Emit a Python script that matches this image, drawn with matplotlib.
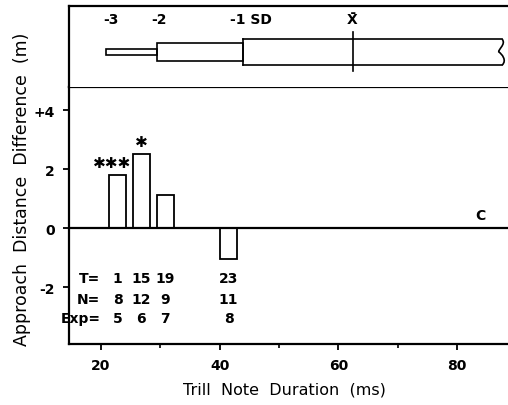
import matplotlib
matplotlib.use('Agg')
import matplotlib.pyplot as plt
from matplotlib.patches import Rectangle, PathPatch
from matplotlib.path import Path

# ---- data ----
bar_x = [22.8, 26.8, 30.8, 41.5]          # trill note duration (ms)
bar_diff = [1.8, 2.52, 1.12, -1.05]       # approach distance difference (m)
sig_counts = [3, 1, 0, 0]
T_vals = [1, 15, 19, 23]
N_vals = [8, 12, 9, 11]
Exp_vals = [5, 6, 7, 8]
sd_bounds = [20.8, 29.5, 43.9, 62.5]      # -3, -2, -1 SD, mean
sd_labels = ['-3', '-2', '-1 SD', 'X\u0304']
sd_label_x = [21.6, 29.8, 45.2, 62.4]
xticks = [20, 40, 60, 80]
xminor = [30, 50, 70]
yticks = [-2, 0, 2, 4]
ytick_labels = ['-2', '0', '2', '+4']

plt.rcParams['font.family'] = ['DejaVu Sans']
W, H = 508, 406
fig = plt.figure(figsize=(W / 100, H / 100), dpi=100)

ax = fig.add_axes([69 / W, 61 / H, 439 / W, 257 / H])
axt = fig.add_axes([69 / W, 318 / H, 439 / W, 81 / H])

xlim = (14.6, 88.6)
ax.set_xlim(*xlim)
ax.set_ylim(-3.93, 4.78)
axt.set_xlim(*xlim)
axt.set_ylim(0, 1)

lw_sp = 1.6
for a in (ax, axt):
    a.spines['right'].set_visible(False)
    for s in ('left', 'bottom', 'top'):
        a.spines[s].set_linewidth(lw_sp)
axt.spines['bottom'].set_visible(False)
axt.set_xticks([])
axt.set_yticks([])

# bars
ax.bar(bar_x, bar_diff, width=2.9, facecolor='white', edgecolor='black', linewidth=1.3, zorder=3)
ax.axhline(0, color='black', lw=1.6, zorder=4)

# significance stars
for x, d, n in zip(bar_x, bar_diff, sig_counts):
    if n:
        ax.annotate('\u2731' * n, (x, d), xytext=(-4 if n > 1 else 0, 9),
                    textcoords='offset points', ha='center', va='center',
                    fontsize=11, fontweight='bold')

# table text
fs = 10
rows = [('T=', T_vals, -1.69), ('N=', N_vals, -2.41), ('Exp=', Exp_vals, -3.05)]
for lab, vals, y in rows:
    ax.text(19.9, y, lab, ha='right', va='center', fontsize=fs, fontweight='bold')
    for x, v in zip(bar_x, vals):
        ax.text(x, y, str(v), ha='center', va='center', fontsize=fs, fontweight='bold')

ax.text(84.0, 0.22, 'C', ha='center', va='bottom', fontsize=fs, fontweight='bold')

# ticks
ax.set_xticks(xticks)
ax.set_xticklabels([str(t) for t in xticks], fontsize=10, fontweight='bold')
ax.set_xticks(xminor, minor=True)
ax.set_yticks(yticks)
ax.set_yticklabels(ytick_labels, fontsize=10, fontweight='bold')
ax.tick_params(axis='both', which='major', direction='out', length=4, width=1.3, pad=6)
ax.tick_params(axis='both', which='minor', direction='out', length=3, width=1.2)

# top SD box
c = 0.43
h1, h2, h3 = 0.035, 0.11, 0.16
lwb = 1.2
axt.add_patch(Rectangle((sd_bounds[0], c - h1), sd_bounds[1] - sd_bounds[0], 2 * h1,
                        fill=False, ec='black', lw=lwb))
axt.add_patch(Rectangle((sd_bounds[1], c - h2), sd_bounds[2] - sd_bounds[1], 2 * h2,
                        fill=False, ec='black', lw=lwb))
xr = 87.6
axt.plot([sd_bounds[2], sd_bounds[2]], [c - h3, c + h3], color='black', lw=lwb)
axt.plot([sd_bounds[2], xr], [c + h3, c + h3], color='black', lw=lwb)
axt.plot([sd_bounds[2], xr], [c - h3, c - h3], color='black', lw=lwb)
verts = [(xr, c + h3), (xr + 0.8, c + h3 - 0.06), (xr - 0.9, c + 0.02), (xr - 0.5, c),
         (xr - 0.1, c - 0.02), (xr + 0.9, c - h3 + 0.06), (xr, c - h3)]
codes = [Path.MOVETO, Path.CURVE4, Path.CURVE4, Path.CURVE4, Path.CURVE4, Path.CURVE4, Path.CURVE4]
axt.add_patch(PathPatch(Path(verts, codes), fill=False, ec='black', lw=lwb))
axt.plot([sd_bounds[3], sd_bounds[3]], [0.2, 0.68], color='black', lw=lwb)
for x, lab in zip(sd_label_x, sd_labels):
    axt.text(x, 0.84, lab, ha='center', va='center', fontsize=fs, fontweight='bold')

fig.text(22 / W, 1 - 189 / H, 'Approach  Distance  Difference  (m)', rotation=90,
         ha='center', va='center', fontsize=12.5)
fig.text(284 / W, 1 - 390 / H, 'Trill  Note  Duration  (ms)', ha='center', va='center', fontsize=11.5)

fig.savefig('out.png', dpi=100)
